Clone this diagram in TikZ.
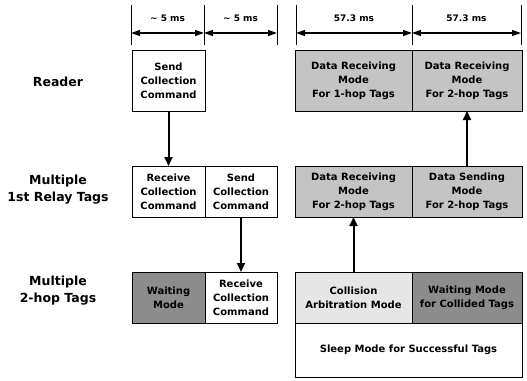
\documentclass[tikz,border=0pt]{standalone}
\usepackage{fontspec}
\setmainfont{DejaVu Sans}
\usetikzlibrary{arrows.meta, positioning}
\usepackage{xcolor}
\definecolor{modegray}{RGB}{196,196,196}
\definecolor{arbgray}{RGB}{230,230,230}
\definecolor{waitgray}{RGB}{140,140,140}
\tikzset{
  cbox/.style={
    rectangle, draw=black, line width=0.6pt, fill=white,
    align=center, font=\fontsize{10}{14}\selectfont\bfseries,
    inner sep=2pt, outer sep=0pt, minimum height=51pt
  },
  gbox/.style={cbox, fill=modegray},
  abox/.style={cbox, fill=arbgray},
  wbox/.style={cbox, fill=waitgray},
  rowlbl/.style={align=center, font=\fontsize{12.5}{17}\selectfont\bfseries},
  tlbl/.style={font=\fontsize{9}{10}\selectfont\bfseries},
  arr/.style={-{Triangle[length=9pt,width=8pt]}, line width=2pt},
  dim/.style={{Triangle[length=9pt,width=6pt]}-{Triangle[length=9pt,width=6pt]}, line width=1.2pt},
  tick/.style={line width=1pt},
}

\begin{document}
\begin{tikzpicture}[x=1pt, y=-1pt]
  \useasboundingbox (0,0) rectangle (527,380);
  % time scale
  \foreach \n/\x in {t0/131, t1/204, t2/277, t3/296, t4/412, t5/521} {
    \draw[tick] (\x,5) -- (\x,45);
    \coordinate (\n) at (\x,33);
  }
  \draw[dim] (t0) -- node[tlbl, above=7pt] (d0) {\textasciitilde{} 5 ms} (t1);
  \draw[dim] (t1) -- node[tlbl, above=7pt] (d1) {\textasciitilde{} 5 ms} (t2);
  \draw[dim] (t3) -- node[tlbl, above=7pt] (d2) {57.3 ms} (t4);
  \draw[dim] (t4) -- node[tlbl, above=7pt] (d3) {57.3 ms} (t5);

  % rows
  \node[rowlbl] (lread) at (58,82) {Reader};
  \node[rowlbl] (lrelay) at (58,190) {Multiple\\1st Relay Tags};
  \node[rowlbl] (lhop) at (58,291) {Multiple\\2-hop Tags};

  \node[cbox, minimum width=73pt, minimum height=61pt, anchor=north west] (rsend) at (132,50) {Send\\Collection\\Command};
  \node[gbox, minimum width=117pt, minimum height=61pt, anchor=north west] (rx1) at (295,50) {Data Receiving\\Mode\\For 1-hop Tags};
  \node[gbox, minimum width=110pt, minimum height=61pt, right=0pt of rx1] (rx2) {Data Receiving\\Mode\\For 2-hop Tags};

  \node[cbox, minimum width=73pt, anchor=north west] (mrcv) at (132,166) {Receive\\Collection\\Command};
  \node[cbox, minimum width=72pt, right=0pt of mrcv] (msnd) {Send\\Collection\\Command};
  \node[gbox, minimum width=117pt, anchor=north west] (mrx) at (295,166) {Data Receiving\\Mode\\For 2-hop Tags};
  \node[gbox, minimum width=110pt, right=0pt of mrx] (mtx) {Data Sending\\Mode\\For 2-hop Tags};

  \node[wbox, minimum width=73pt, anchor=north west] (bwait) at (132,272) {Waiting\\Mode};
  \node[cbox, minimum width=72pt, right=0pt of bwait] (brcv) {Receive\\Collection\\Command};
  \node[abox, minimum width=117pt, anchor=north west] (barb) at (295,272) {Collision\\Arbitration Mode};
  \node[wbox, minimum width=110pt, right=0pt of barb] (bwcol) {Waiting Mode\\for Collided Tags};
  \node[cbox, minimum width=227pt, minimum height=54pt, anchor=north west] (bsleep) at (barb.south west) {Sleep Mode for Successful Tags};

  \draw[arr] (rsend) -- (mrcv);
  \draw[arr] (msnd) -- (brcv);
  \draw[arr] (barb) -- (mrx);
  \draw[arr] (mtx) -- (rx2);
\end{tikzpicture}
\end{document}
